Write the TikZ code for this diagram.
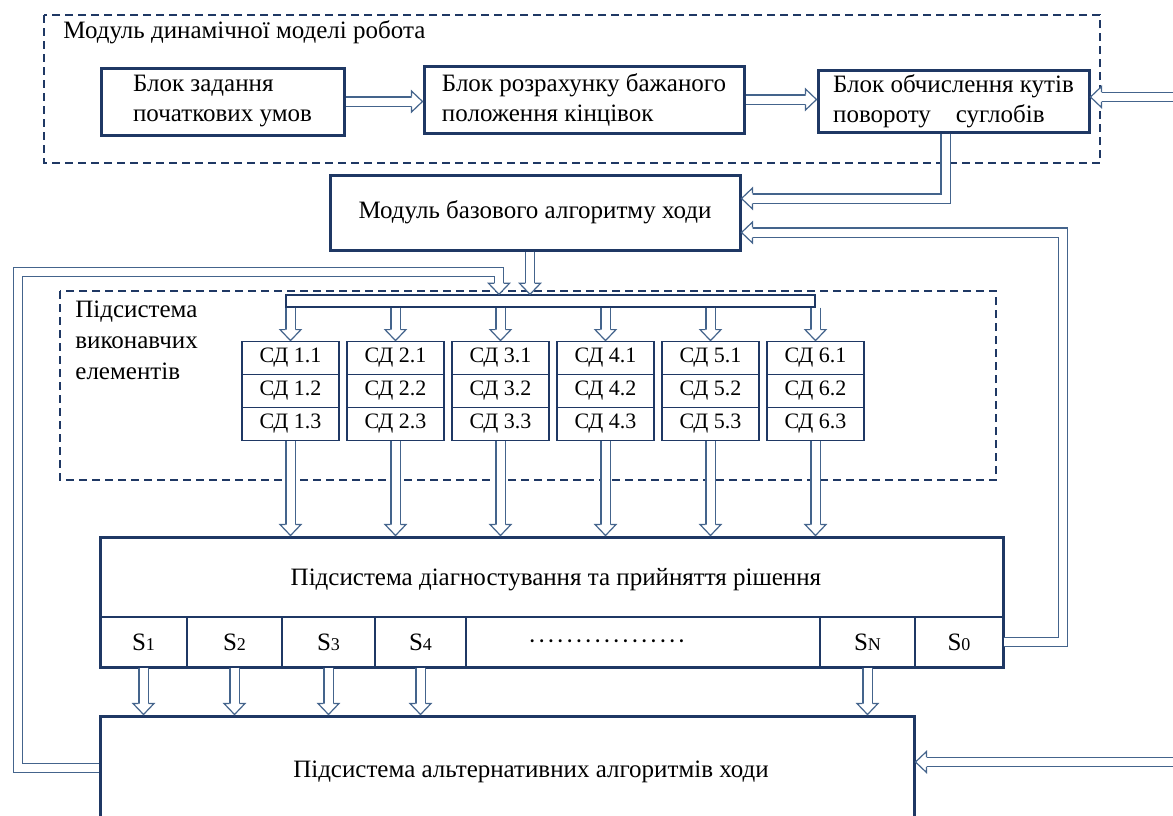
\documentclass[tikz,border=0pt]{standalone}
\usepackage{fontspec}
\setmainfont{Liberation Serif}
\usepackage{tikz}
\usetikzlibrary{arrows.meta, positioning, calc, decorations.markings}
\definecolor{NavyLine}{RGB}{31, 56, 100}
\definecolor{SteelLine}{RGB}{68, 100, 140}
\newcommand{\mainfs}{\fontsize{12.5}{15}\selectfont}
\newcommand{\sdfs}{\fontsize{11}{13}\selectfont}
\newcommand{\subfs}{\fontsize{9}{10}\selectfont}
\newcommand{\dotrow}{\raisebox{-3.5pt}[0pt][0pt]{·\foreach \k in {1,...,16}{\hspace{0.5pt}·}}}
\tikzset{
  blk/.style={rectangle, draw=NavyLine, line width=1.5pt, align=left,
    font=\mainfs, inner sep=2pt},
  grp/.style={draw=NavyLine, line width=0.7pt, dash pattern=on 4pt off 2.5pt},
  sdcell/.style={rectangle, draw=NavyLine, line width=0.9pt,
    minimum width=48.5pt, minimum height=16.5pt, inner sep=0pt, font=\sdfs},
  scell/.style={rectangle, draw=NavyLine, line width=0.7pt,
    minimum height=25pt, inner sep=0pt, font=\mainfs},
  lbl/.style={font=\mainfs, inner sep=0pt},
  hollowhead/.style={draw=SteelLine, fill=white, line width=0.6pt,
    shorten >=0pt, line join=miter},
  dbl/.style={draw=SteelLine, line width=0.6pt, double=white,
    double distance=4pt, shorten >=5pt,
    postaction={decorate, decoration={markings, mark=at position 1 with {
      \draw[hollowhead] (-5.5pt,2.6pt) -- (-5.5pt,5.25pt) -- (0,0)
        -- (-5.5pt,-5.25pt) -- (-5.5pt,-2.6pt);}}}},
}

\begin{document}
\begin{tikzpicture}[x=0.5pt, y=-0.5pt]
  \useasboundingbox (0,0) rectangle (1173,815);
  \clip (0,0) rectangle (1173,815);
  % dynamic model module
  \draw[grp] (44,15) rectangle (1100,163);
  \node[lbl, anchor=west] (dynlbl) at (63,32) {Модуль динамічної моделі робота};
  \node[blk, minimum width=121.5pt, minimum height=33.5pt] (init) at (222.5,101.5)
    {Блок задання\\початкових умов};
  \node[blk, minimum width=160pt, minimum height=33.5pt] (pose) at (584,99.5)
    {Блок розрахунку бажаного\\положення кінцівок};
  \node[blk, minimum width=135.5pt, minimum height=31pt] (angles) at (953.5,101)
    {Блок обчислення кутів\\повороту\quad суглобів};
  \node[blk, minimum width=205pt, minimum height=37.5pt] (gait) at (535,212.5)
    {Модуль базового алгоритму ходи};
  % executive elements
  \draw[grp] (60,291) rectangle (996,480);
  \node[lbl, anchor=north west, align=left, font=\fontsize{12.5}{15.5}\selectfont]
    (execlbl) at (75,301) {Підсистема\\виконавчих\\елементів};
  \node[draw=NavyLine, line width=0.7pt, fill=white, minimum width=264.5pt,
    minimum height=6pt, inner sep=0pt] (bus) at (550.5,301) {};
  % diagnosis and alternatives
  \foreach \nm/\cx/\w/\txt in {s1/143.5/43.5/{S{\subfs 1}}, s2/234.5/47.5/{S{\subfs 2}},
    s3/328.5/46.5/{S{\subfs 3}}, s4/420.5/45.5/{S{\subfs 4}},
    dots/643/177/{\dotrow\hspace*{36pt}},
    sn/867.5/47.5/{S{\subfs N}}, s0/959/44/{S{\subfs 0}}}
    \node[scell, minimum width=\w pt] (\nm) at (\cx,642) {\txt};
  \node[blk, minimum width=451.5pt, minimum height=65pt] (diag) at (551.5,602) {};
  \node[lbl] (diagtitle) at (556,580) {Підсистема діагностування та прийняття рішення};
  \node[blk, minimum width=407pt, minimum height=56pt] (alt) at (507,772) {};
  \node[lbl] (alttitle) at (531,772) {Підсистема альтернативних алгоритмів ходи};
  \foreach \i in {1,...,6}{
    \pgfmathsetmacro{\cx}{290.5+(\i-1)*105}
    \foreach \j in {1,2,3}{
      \pgfmathsetmacro{\cy}{358+(\j-1)*33}
      \node[sdcell] (sd\i\j) at (\cx,\cy) {СД \i.\j};
    }
    \draw[dbl] (sd\i1.north |- bus.south) -- (sd\i1.north);
    \draw[dbl] (sd\i3.south) -- (sd\i3.south |- diag.north);
  }
  \foreach \nm in {s1,s2,s3,s4,sn}
    \draw[dbl] (\nm.south) -- (\nm.south |- alt.north);
  % connectors
  \coordinate (extA) at (1173,97);
  \coordinate (extB) at (1173,762);
  \coordinate (loop) at (18,272);
  \draw[dbl] (init.east) -- (init.east -| pose.west);
  \draw[dbl] (pose.east) -- (pose.east -| angles.west);
  \draw[dbl] (extA) -- (extA -| angles.east);
  \draw[dbl] ([xshift=-4pt]angles.south) |- ([yshift=7pt]gait.east);
  \draw[dbl] (s0.east) -- ++(59,0) |- ([yshift=-10pt]gait.east);
  \draw[dbl] ([xshift=-2.5pt]gait.south) -- ([xshift=-2.5pt]gait.south |- bus.north);
  \draw[dbl] ([yshift=2pt]alt.west) -| (loop) -| ([xshift=-25.75pt]bus.north);
  \draw[dbl] (extB) -- (extB -| alt.east);
\end{tikzpicture}
\end{document}
